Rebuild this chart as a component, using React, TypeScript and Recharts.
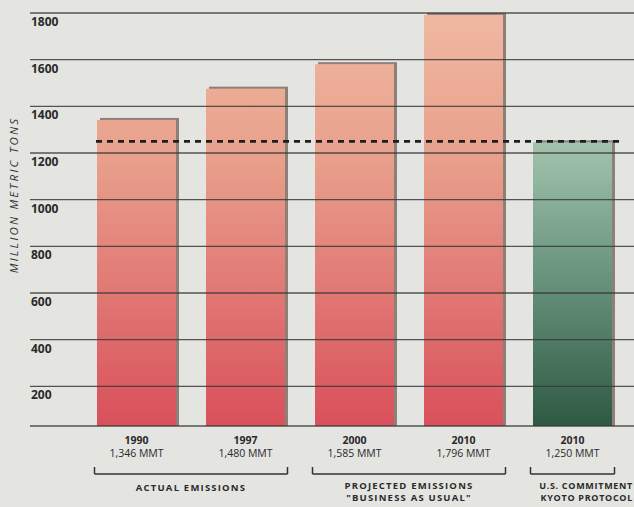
import React from 'react';
import { BarChart, Bar, XAxis, YAxis, ReferenceLine } from 'recharts';

const years = ['1990', '1997', '2000', '2010', '2010'];
const emissions = [1346, 1480, 1585, 1796, 1250];
const commitment = 1250;
const yTicks = [30, 200, 400, 600, 800, 1000, 1200, 1400, 1600, 1800];
const groupOf = [0, 0, 1, 1, 2];
const groupLabels = [['ACTUAL EMISSIONS'], ['PROJECTED EMISSIONS', '"BUSINESS AS USUAL"'], ['U.S. COMMITMENT', 'KYOTO PROTOCOL']];

const data = years.map((year, i) => ({
  id: String(i),
  year,
  value: emissions[i],
  label: emissions[i].toLocaleString('en-US') + ' MMT',
}));

const W = 634;
const H = 507;
const BAND = 109;
const FONT = '"Open Sans", "DejaVu Sans", sans-serif';
const INK = '#2a2a2a';

function YTick({ y, payload }: any) {
  return (
    <g>
      <line x1={30} x2={W} y1={y} y2={y} stroke="#3a3a3a" strokeWidth={1.4} strokeOpacity={0.85} />
      {payload.value >= 200 && (
        <text x={31} y={y + 13} fontFamily={FONT} fontWeight={700} fontSize={12} fill={INK}>
          {payload.value}
        </text>
      )}
    </g>
  );
}

function XTick({ x, payload }: any) {
  const i = Number(payload.value);
  const d = data[i];
  const g = groupOf[i];
  const first = groupOf[i - 1] !== g;
  const last = groupOf[i + 1] !== g;
  const left = first ? x - 42 : x - BAND / 2;
  const right = last ? x + 42 : x + BAND / 2;
  const by = 474;
  let groupText = null;
  if (last) {
    const n = groupOf.filter((v) => v === g).length;
    const cx = x - ((n - 1) * BAND) / 2;
    const edge = g === 2;
    groupText = groupLabels[g].map((t, k) => (
      <text
        key={k}
        x={edge ? W - 1 : cx}
        y={groupLabels[g].length > 1 ? 489 + k * 12 : 491}
        textAnchor={edge ? 'end' : 'middle'}
        fontFamily={FONT}
        fontWeight={700}
        fontSize={edge ? 9 : 9.5}
        letterSpacing={edge ? 0.7 : 1.2}
        fill={INK}
      >
        {t}
      </text>
    ));
  }
  return (
    <g>
      <text x={x} y={444} textAnchor="middle" fontFamily={FONT} fontWeight={700} fontSize={10.5} fill={INK}>
        {d.year}
      </text>
      <text x={x} y={457} textAnchor="middle" fontFamily={FONT} fontSize={10.5} fill={INK}>
        {d.label}
      </text>
      <line x1={left} x2={right} y1={by} y2={by} stroke="#333" strokeWidth={1.5} />
      {first && <line x1={left} x2={left} y1={by - 7} y2={by} stroke="#333" strokeWidth={1.5} />}
      {last && <line x1={right} x2={right} y1={by - 7} y2={by} stroke="#333" strokeWidth={1.5} />}
      {groupText}
    </g>
  );
}

function ShadedBar({ x, y, width, height, index }: any) {
  const fill = index === 4 ? 'url(#greenGrad)' : 'url(#redGrad)';
  return (
    <g>
      <rect x={x + 3} y={y - 1} width={width} height={height + 1} fill="#8c8079" />
      <rect x={x} y={y + 1} width={width} height={height - 1} fill={fill} />
    </g>
  );
}

function DashLine({ x1, x2, y1 }: any) {
  return <line x1={x1 + 14} x2={x2 - 8} y1={y1} y2={y1} stroke="#1e1e1e" strokeWidth={2.6} strokeDasharray="6 5" />;
}

export default function App() {
  return (
    <div style={{ position: 'fixed', left: 0, top: 0, width: W, height: H, background: '#e4e4e1', overflow: 'hidden' }}>
      <BarChart width={W} height={H} data={data} margin={{ top: 13, right: 7, left: 0, bottom: 0 }} barCategoryGap={0}>
        <defs>
          <linearGradient id="redGrad" x1="0" y1="13" x2="0" y2="426" gradientUnits="userSpaceOnUse">
            <stop offset="0" stopColor="#f0b8a1" />
            <stop offset="0.35" stopColor="#e8a08c" />
            <stop offset="1" stopColor="#d9505b" />
          </linearGradient>
          <linearGradient id="greenGrad" x1="0" y1="140" x2="0" y2="426" gradientUnits="userSpaceOnUse">
            <stop offset="0" stopColor="#a3c4ae" />
            <stop offset="0.45" stopColor="#6b9680" />
            <stop offset="1" stopColor="#2e5943" />
          </linearGradient>
        </defs>
        <XAxis dataKey="id" height={81} axisLine={false} tickLine={false} interval={0} tick={(p: any) => <XTick {...p} />} />
        <YAxis
          type="number"
          domain={[30, 1800]}
          ticks={yTicks}
          interval={0}
          width={82}
          axisLine={false}
          tickLine={false}
          tick={(p: any) => <YTick {...p} />}
        />
        <Bar dataKey="value" barSize={79} isAnimationActive={false} shape={(p: any) => <ShadedBar {...p} />} />
        <ReferenceLine y={commitment} shape={(p: any) => <DashLine {...p} />} />
        <text
          transform="translate(18,195) rotate(-90)"
          textAnchor="middle"
          fontFamily={FONT}
          fontStyle="italic"
          fontSize={11.5}
          letterSpacing={2.2}
          fill="#333"
        >
          MILLION METRIC TONS
        </text>
      </BarChart>
    </div>
  );
}
